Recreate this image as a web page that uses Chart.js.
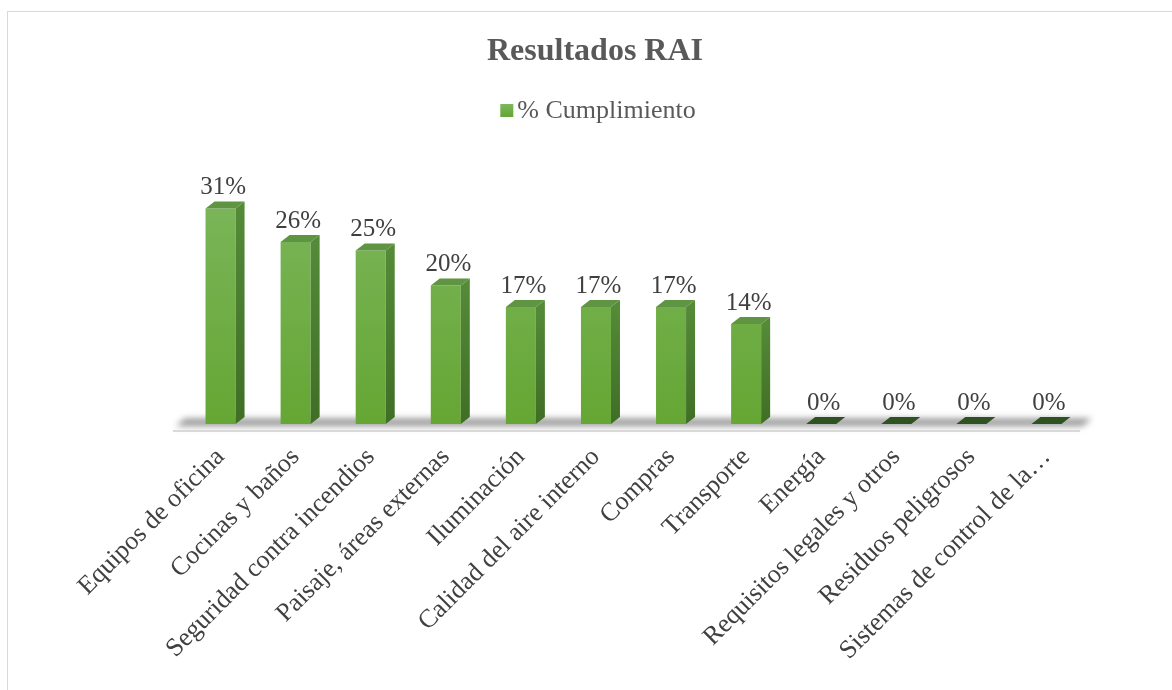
<!DOCTYPE html>
<html>
<head>
<meta charset="utf-8">
<script src="https://cdn.jsdelivr.net/npm/chart.js@4.4.1/dist/chart.umd.min.js"></script>
<style>
html,body{margin:0;padding:0;background:#fff;}
#wrap{width:1172px;height:690px;position:relative;}
</style>
</head>
<body>
<div id="wrap"><canvas id="c" width="1172" height="690"></canvas></div>
<script>
const chartTitle = "Resultados RAI";
const seriesName = "% Cumplimiento";
const categories = [
  "Equipos de oficina",
  "Cocinas y baños",
  "Seguridad contra incendios",
  "Paisaje, áreas externas",
  "Iluminación",
  "Calidad del aire interno",
  "Compras",
  "Transporte",
  "Energía",
  "Requisitos legales y otros",
  "Residuos peligrosos",
  "Sistemas de control de la…"
];
const cumplimiento = [30.8, 26.0, 24.8, 19.8, 16.7, 16.7, 16.7, 14.3, 0, 0, 0, 0];

const FONT = "'Liberation Serif', 'Times New Roman', serif";
const DX = 9, DY = -7;

const box3d = {
  id: 'box3d',
  beforeDraw(chart) {
    const c = chart.ctx;
    c.save();
    c.fillStyle = '#ffffff';
    c.fillRect(0, 0, chart.width, chart.height);
    c.strokeStyle = '#d9d9d9';
    c.lineWidth = 1;
    c.strokeRect(7.5, 11.5, 1300, 1000);
    c.fillStyle = '#595959';
    c.font = "bold 32px " + FONT;
    c.textAlign = 'center';
    c.textBaseline = 'middle';
    c.fillText(chartTitle, 595, 52);
    c.font = "26px " + FONT;
    c.textAlign = 'left';
    const tw = c.measureText(seriesName).width;
    const lx = 598 - (tw + 17) / 2;
    const g = c.createLinearGradient(0, 104, 0, 116);
    g.addColorStop(0, '#7db85d');
    g.addColorStop(1, '#66a637');
    c.fillStyle = g;
    c.fillRect(lx, 104, 13, 13);
    c.fillStyle = '#595959';
    c.fillText(seriesName, lx + 17, 111);
    const a = chart.chartArea;
    const y0 = a.bottom;
    c.save();
    c.filter = 'blur(3px)';
    const fg = c.createLinearGradient(0, y0 - 7, 0, y0 + 4);
    fg.addColorStop(0, 'rgba(150,150,150,0.6)');
    fg.addColorStop(0.5, 'rgba(110,110,110,0.8)');
    fg.addColorStop(1, 'rgba(170,170,170,0.5)');
    c.fillStyle = fg;
    c.beginPath();
    c.moveTo(a.left - 8, y0 + 3);
    c.lineTo(a.right - 2, y0 + 3);
    c.lineTo(a.right + 8, y0 - 6);
    c.lineTo(a.left + 2, y0 - 6);
    c.closePath();
    c.fill();
    c.restore();
    c.strokeStyle = '#d9d9d9';
    c.lineWidth = 2;
    c.beginPath();
    c.moveTo(a.left - 10, y0 + 7);
    c.lineTo(a.right - 4, y0 + 7);
    c.stroke();
    c.restore();
  },
  afterDatasetsDraw(chart) {
    const c = chart.ctx;
    const meta = chart.getDatasetMeta(0);
    c.save();
    meta.data.forEach((bar, i) => {
      const p = bar.getProps(['x', 'y', 'base', 'width'], true);
      const l = p.x - p.width / 2, r = p.x + p.width / 2, t = p.y, b = p.base;
      if (b - t > 0.5) {
        const sg = c.createLinearGradient(0, t, 0, b);
        sg.addColorStop(0, '#548a38');
        sg.addColorStop(1, '#3f6e25');
        c.fillStyle = sg;
        c.beginPath();
        c.moveTo(r, t);
        c.lineTo(r + DX, t + DY);
        c.lineTo(r + DX, b + DY);
        c.lineTo(r, b);
        c.closePath();
        c.fill();
      }
      c.fillStyle = (b - t > 0.5) ? '#5e9442' : '#2f5222';
      c.beginPath();
      c.moveTo(l, t);
      c.lineTo(r, t);
      c.lineTo(r + DX, t + DY);
      c.lineTo(l + DX, t + DY);
      c.closePath();
      c.fill();
      c.fillStyle = '#404040';
      c.font = "25px " + FONT;
      c.textAlign = 'center';
      c.textBaseline = 'alphabetic';
      c.fillText(Math.round(cumplimiento[i]) + '%', p.x + DX / 2 - 2, t + DY - 7);
    });
    c.restore();
  }
};

const chart = new Chart(document.getElementById('c'), {
  type: 'bar',
  data: {
    labels: categories,
    datasets: [{
      label: seriesName,
      data: cumplimiento,
      backgroundColor(ctx) {
        const a = ctx.chart.chartArea;
        if (!a) return '#6aaa3c';
        const g = ctx.chart.ctx.createLinearGradient(0, a.top, 0, a.bottom);
        g.addColorStop(0, '#80b962');
        g.addColorStop(1, '#65a634');
        return g;
      },
      borderWidth: 0,
      categoryPercentage: 1,
      barPercentage: 0.4
    }]
  },
  options: {
    responsive: false,
    animation: false,
    layout: { padding: { top: 144, left: 183, right: 88, bottom: 0 } },
    plugins: { legend: { display: false }, title: { display: false }, tooltip: { enabled: false } },
    scales: {
      x: {
        offset: true,
        grid: { display: false },
        border: { display: false },
        ticks: {
          autoSkip: false,
          minRotation: 45,
          maxRotation: 45,
          padding: 10,
          color: '#404040',
          font: { family: FONT, size: 26 }
        },
        afterFit(s) { s.height = 266; }
      },
      y: {
        display: false,
        min: 0,
        max: 40
      }
    }
  },
  plugins: [box3d]
});
</script>
</body>
</html>
